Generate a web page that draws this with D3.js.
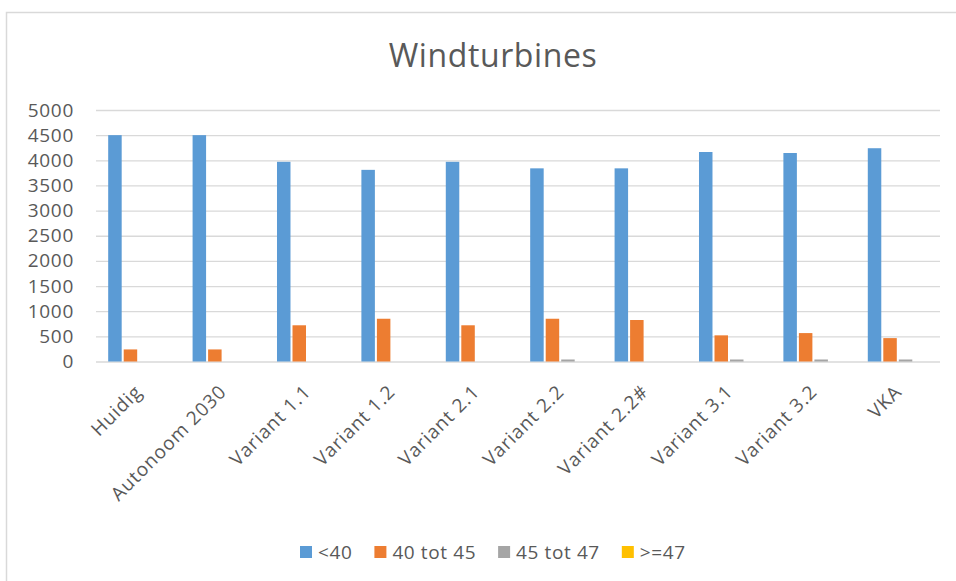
<!DOCTYPE html>
<html>
<head>
<meta charset="utf-8">
<script src="https://cdn.jsdelivr.net/npm/d3@7"></script>
<style>
    body { margin: 0; background: #fff; }
    svg text { font-family: 'Open Sans', sans-serif; fill: #595959; }
</style>
</head>
<body>
<div class="chart-container"></div>
<script>
const categories = ['Huidig', 'Autonoom 2030', 'Variant 1.1', 'Variant 1.2', 'Variant 2.1',
    'Variant 2.2', 'Variant 2.2#', 'Variant 3.1', 'Variant 3.2', 'VKA'];
const seriesNames = ['<40', '40 tot 45', '45 tot 47', '>=47'];
const below40 = [4500, 4500, 3970, 3810, 3970, 3840, 3840, 4165, 4145, 4240];
const from40to45 = [240, 240, 720, 850, 720, 850, 825, 520, 565, 465];
const from45to47 = [0, 0, 0, 0, 0, 40, 0, 40, 40, 40];
const above47 = [0, 0, 0, 0, 0, 0, 0, 0, 0, 0];
const yTicks = [0, 500, 1000, 1500, 2000, 2500, 3000, 3500, 4000, 4500, 5000];
const colors = ['#5b9bd5', '#ed7d31', '#a5a5a5', '#ffc000'];

const seriesValues = [below40, from40to45, from45to47, above47];
const rows = categories.map((cat, i) => ({
    cat,
    values: seriesNames.map((name, s) => ({ name, value: seriesValues[s][i] }))
}));

const width = 956;
const height = 581;
const plot = { left: 96, right: 940, top: 110, bottom: 361.5 };

const svg = d3.select('.chart-container')
    .append('svg')
    .attr('width', width)
    .attr('height', height);

// chart frame, cut off at the right and bottom like the screenshot
svg.append('path')
    .attr('d', `M6.5,${height + 2}V12.5H${width + 2}`)
    .attr('fill', 'none')
    .attr('stroke', '#d9d9d9')
    .attr('stroke-width', 1.5);

svg.append('text')
    .attr('x', 493)
    .attr('y', 67)
    .attr('text-anchor', 'middle')
    .style('font-size', '32px')
    .style('letter-spacing', '0.6px')
    .text('Windturbines');

const x0 = d3.scaleBand()
    .domain(categories)
    .range([plot.left, plot.right])
    .paddingInner(0.265)
    .paddingOuter(0.1325);

const x1 = d3.scaleBand()
    .domain(seriesNames)
    .range([0, x0.bandwidth()])
    .paddingInner(0.13)
    .paddingOuter(0.065);

const y = d3.scaleLinear()
    .domain([0, 5000])
    .range([plot.bottom, plot.top]);

const yAxis = d3.axisLeft(y)
    .tickValues(yTicks)
    .tickFormat(d3.format('d'))
    .tickSize(-(plot.right - plot.left))
    .tickPadding(22);

svg.append('g')
    .attr('class', 'y-axis')
    .attr('transform', `translate(${plot.left},0)`)
    .call(yAxis)
    .call(g => g.select('.domain').remove())
    .call(g => g.selectAll('line').attr('stroke', '#d9d9d9').attr('stroke-width', 1.3))
    .call(g => g.selectAll('text')
        .attr('fill', '#595959')
        .style('font-family', 'Open Sans')
        .style('font-size', '19px')
        .style('letter-spacing', '0.7px'));

svg.append('g')
    .attr('class', 'bars')
    .selectAll('g')
    .data(rows)
    .enter()
    .append('g')
    .attr('transform', d => `translate(${x0(d.cat)},0)`)
    .selectAll('rect')
    .data(d => d.values.filter(v => v.value > 0))
    .enter()
    .append('rect')
    .attr('x', d => x1(d.name))
    .attr('width', x1.bandwidth())
    .attr('y', d => y(d.value))
    .attr('height', d => y(0) - y(d.value))
    .attr('fill', d => colors[seriesNames.indexOf(d.name)]);

svg.append('g')
    .attr('class', 'x-labels')
    .selectAll('text')
    .data(categories)
    .enter()
    .append('text')
    .attr('text-anchor', 'end')
    .attr('transform', d => `translate(${x0(d) + x0.bandwidth() / 2 + 5},393) rotate(-45)`)
    .style('font-size', '19px')
    .style('letter-spacing', '0.9px')
    .text(d => d);

const legend = svg.append('g').attr('class', 'legend');
let lx = 0;
seriesNames.forEach((name, i) => {
    const item = legend.append('g').attr('transform', `translate(${lx},0)`);
    item.append('rect')
        .attr('x', 0)
        .attr('y', 546)
        .attr('width', 12)
        .attr('height', 12)
        .attr('fill', colors[i]);
    const label = item.append('text')
        .attr('x', 18)
        .attr('y', 558.5)
        .style('font-size', '19px')
        .style('letter-spacing', '0.6px')
        .text(name);
    lx += 18 + label.node().getComputedTextLength() + 22;
});
const legendWidth = lx - 22;
legend.attr('transform', `translate(${Math.round(493 - legendWidth / 2)},0)`);
</script>
</body>
</html>
